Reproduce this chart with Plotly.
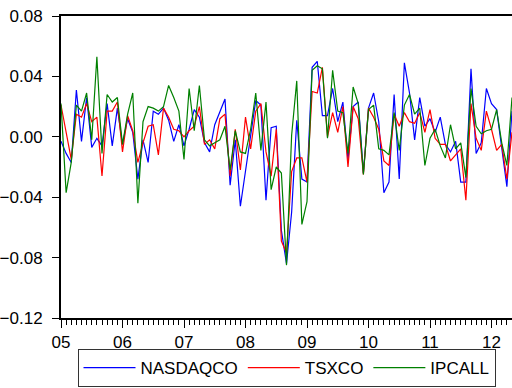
import plotly.graph_objects as go

start_year = 2005
n_months = 89
year_labels = ["05", "06", "07", "08", "09", "10", "11", "12"]
year_ticks = [2005, 2006, 2007, 2008, 2009, 2010, 2011, 2012]

nasdaqco = [
    -0.003, -0.011, -0.017, 0.031, -0.003, 0.026, -0.007, -0.001, -0.006, 0.022,
    -0.006, 0.019, -0.005, 0.012, 0.003, -0.028, -0.002, -0.017, 0.017, 0.015,
    0.019, 0.011, -0.003, 0.008, -0.006, 0.005, 0.018, 0.013, -0.004, -0.010,
    0.008, 0.016, 0.025, -0.032, -0.002, -0.046, -0.022, 0.000, 0.024, 0.021,
    -0.042, 0.006, 0.007, -0.062, -0.084, -0.050, 0.011, -0.028, -0.030, 0.046,
    0.050, 0.014, 0.014, 0.032, 0.010, 0.023, -0.015, 0.020, 0.023, -0.024,
    0.019, 0.029, 0.010, -0.037, -0.030, 0.028, -0.028, 0.049, 0.029, -0.002,
    0.026, 0.007, 0.012, 0.003, 0.013, -0.005, -0.010, -0.003, -0.030, -0.030,
    0.045, -0.011, -0.004, 0.032, 0.022, 0.018, -0.007, -0.033, 0.017,
]
tsxco = [
    0.021, 0.003, -0.015, 0.015, 0.013, 0.022, 0.010, 0.013, -0.026, 0.017,
    0.017, 0.023, -0.010, 0.014, 0.004, -0.017, -0.004, 0.007, 0.008, -0.012,
    0.019, 0.013, 0.005, 0.004, 0.000, 0.004, 0.007, 0.020, -0.005, -0.002,
    -0.008, 0.012, 0.015, -0.026, 0.005, -0.022, 0.013, -0.008, 0.017, 0.022,
    -0.010, -0.026, 0.005, -0.069, -0.077, -0.023, -0.014, -0.014, -0.030, 0.030,
    0.029, 0.046, 0.000, 0.016, 0.003, 0.020, -0.020, 0.020, 0.012, -0.025,
    0.019, 0.013, 0.005, -0.016, -0.019, 0.015, 0.007, 0.016, 0.010, 0.009,
    0.016, 0.003, 0.018, -0.001, -0.005, -0.005, -0.016, -0.012, -0.008, -0.042,
    0.022, -0.001, -0.009, 0.017, 0.005, -0.009, -0.005, -0.028, 0.003,
]
ipcall = [
    0.022, -0.037, -0.017, 0.021, 0.017, 0.029, -0.002, 0.053, -0.011, 0.028,
    0.023, 0.026, -0.005, 0.015, 0.029, -0.044, 0.010, 0.020, 0.019, 0.017,
    0.020, 0.034, 0.026, 0.017, -0.015, 0.032, 0.004, 0.034, -0.002, -0.006,
    -0.004, -0.002, 0.007, -0.022, 0.004, -0.010, -0.011, 0.005, 0.029, -0.009,
    0.023, -0.035, -0.020, -0.024, -0.085, 0.001, 0.037, -0.058, -0.043, 0.044,
    0.047, 0.045, -0.001, 0.044, 0.017, 0.016, -0.011, 0.033, 0.022, -0.025,
    0.018, 0.021, -0.008, -0.009, -0.012, 0.016, -0.009, 0.021, 0.028, 0.015,
    0.019, -0.019, -0.001, 0.005, -0.006, -0.014, 0.008, -0.008, -0.004, -0.027,
    0.032, 0.007, 0.002, 0.004, 0.005, 0.018, -0.004, -0.019, 0.026,
]

x = [start_year + i / 12 for i in range(n_months)]

series = [
    ("NASDAQCO", nasdaqco, "#0000FF"),
    ("TSXCO", tsxco, "#FF0000"),
    ("IPCALL", ipcall, "#008000"),
]

fig = go.Figure()
for name, vals, color in series:
    fig.add_trace(go.Scatter(x=x, y=vals, mode="lines", name=name,
                             line=dict(color=color, width=1.2)))

font = dict(family="Liberation Sans, Arial, sans-serif", size=17, color="#000000")

fig.update_layout(
    width=512, height=388,
    margin=dict(l=61, r=0, t=16, b=70, autoexpand=False),
    paper_bgcolor="white", plot_bgcolor="white",
    font=font,
    showlegend=True,
    legend=dict(orientation="h", x=0.5, xanchor="center",
                yref="container", y=1 - 387 / 388, yanchor="bottom",
                bordercolor="#333333", borderwidth=1, font=font,
                itemwidth=52, tracegroupgap=0),
)
fig.update_xaxes(
    range=[start_year, start_year + (n_months - 1) / 12],
    tickmode="array", tickvals=year_ticks, ticktext=year_labels,
    ticks="outside", ticklen=8, tickcolor="black", tickwidth=1,
    showline=True, linecolor="black", linewidth=2, mirror=True,
    showgrid=False, zeroline=False,
    minor=dict(dtick=1/12, tick0=start_year, ticks="outside", ticklen=5,
               tickcolor="black", tickwidth=1, showgrid=False),
    tickfont=font, ticklabelstandoff=0,
)
fig.update_yaxes(
    range=[-0.12, 0.08], tickvals=[-0.12, -0.08, -0.04, 0.00, 0.04, 0.08],
    tickformat=".2f", ticks="outside", ticklen=7, tickcolor="black",
    showline=True, linecolor="black", linewidth=2,
    showgrid=False, zeroline=False, tickfont=font, ticklabelstandoff=6,
)

fig.write_html("out.html")
